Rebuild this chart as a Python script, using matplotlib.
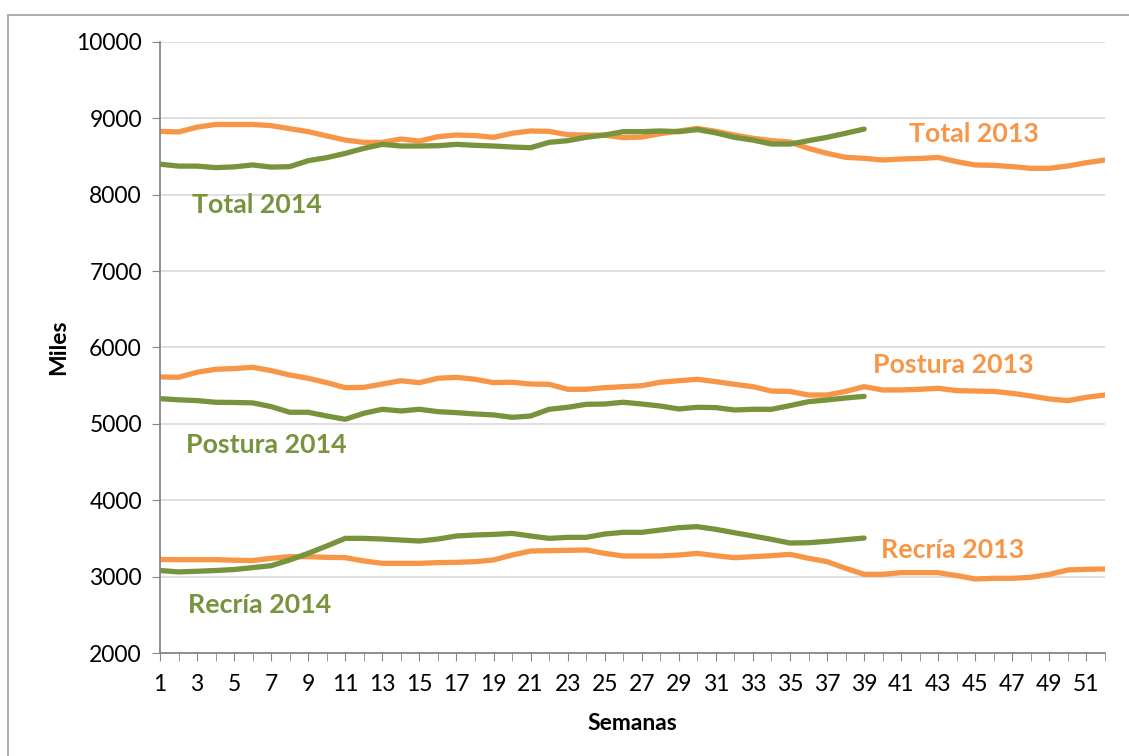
import matplotlib.pyplot as plt
from matplotlib.patches import Rectangle
import numpy as np

plt.rcParams['font.family'] = ['Lato', 'DejaVu Sans']

semanas = list(range(1, 53))

total_2013 = [8830, 8822, 8885, 8920, 8920, 8920, 8905, 8865, 8826, 8770,
              8716, 8686, 8686, 8730, 8703, 8760, 8782, 8775, 8752, 8805,
              8835, 8830, 8786, 8782, 8780, 8748, 8755, 8800, 8835, 8868,
              8830, 8782, 8740, 8708, 8690, 8607, 8542, 8490, 8477, 8455,
              8468, 8475, 8488, 8433, 8390, 8385, 8368, 8346, 8346, 8377,
              8420, 8455]
total_2014 = [8400, 8375, 8375, 8355, 8365, 8390, 8362, 8368, 8446, 8486,
              8542, 8607, 8660, 8638, 8638, 8642, 8660, 8647, 8638, 8625,
              8616, 8686, 8708, 8752, 8782, 8826, 8826, 8835, 8826, 8853,
              8810, 8752, 8716, 8664, 8664, 8708, 8752, 8805, 8860]

postura_2013 = [5615, 5610, 5676, 5715, 5724, 5741, 5697, 5640, 5597, 5540,
                5474, 5478, 5522, 5565, 5540, 5597, 5610, 5584, 5540, 5545,
                5522, 5518, 5453, 5453, 5474, 5487, 5500, 5545, 5565, 5584,
                5553, 5518, 5487, 5430, 5425, 5378, 5378, 5425, 5487, 5444,
                5444, 5453, 5466, 5435, 5430, 5425, 5400, 5365, 5326, 5304,
                5348, 5378]
postura_2014 = [5330, 5315, 5305, 5283, 5280, 5275, 5226, 5152, 5152, 5103,
                5060, 5139, 5191, 5169, 5191, 5160, 5147, 5130, 5117, 5086,
                5103, 5191, 5217, 5256, 5260, 5283, 5260, 5234, 5195, 5217,
                5213, 5182, 5191, 5191, 5239, 5291, 5313, 5339, 5360]

recria_2013 = [3225, 3222, 3222, 3222, 3215, 3210, 3240, 3261, 3261, 3253,
               3248, 3205, 3174, 3174, 3174, 3183, 3187, 3196, 3218, 3283,
               3335, 3340, 3344, 3349, 3305, 3270, 3270, 3270, 3283, 3305,
               3274, 3248, 3261, 3274, 3292, 3240, 3196, 3109, 3030, 3030,
               3052, 3052, 3052, 3013, 2969, 2978, 2978, 2991, 3030, 3087,
               3096, 3100]
recria_2014 = [3080, 3062, 3070, 3080, 3093, 3118, 3143, 3218, 3305, 3401,
               3501, 3501, 3492, 3479, 3466, 3492, 3532, 3545, 3553, 3566,
               3532, 3501, 3514, 3514, 3558, 3580, 3580, 3610, 3641, 3654,
               3619, 3575, 3532, 3488, 3440, 3444, 3462, 3484, 3505]

naranja = '#F79646'
verde = '#77933C'
gris = '#868686'

fig = plt.figure(figsize=(11.29, 7.56), dpi=100)
fig.patches.append(Rectangle((8 / 1129, -0.1), 1.2, 1.1 - 15 / 756,
                             transform=fig.transFigure, fill=False,
                             edgecolor='#A0A0A0', linewidth=1.2))
ax = fig.add_axes([160 / 1129, 1 - 653 / 756, 945 / 1129, 611 / 756])

lw = 3.8
ax.plot(semanas, total_2013, color=naranja, lw=lw, solid_capstyle='round')
ax.plot(semanas, postura_2013, color=naranja, lw=lw, solid_capstyle='round')
ax.plot(semanas, recria_2013, color=naranja, lw=lw, solid_capstyle='round')
ax.plot(semanas[:len(total_2014)], total_2014, color=verde, lw=lw, solid_capstyle='round')
ax.plot(semanas[:len(postura_2014)], postura_2014, color=verde, lw=lw, solid_capstyle='round')
ax.plot(semanas[:len(recria_2014)], recria_2014, color=verde, lw=lw, solid_capstyle='round')

ax.set_xlim(1, 52)
ax.set_ylim(2000, 10000)
ax.set_yticks(range(2000, 10001, 1000))
ax.set_xticks(semanas, minor=True)
ax.set_xticks(semanas[::2])
ax.tick_params(axis='x', which='both', length=6, color=gris, labelsize=16.5, pad=9)
ax.tick_params(axis='y', length=6, color=gris, labelsize=16.5, pad=7)
ax.grid(axis='y', color='#D9D9D9', linewidth=1.2)
ax.set_axisbelow(True)
for s in ['top', 'right']:
    ax.spines[s].set_visible(False)
for s in ['left', 'bottom']:
    ax.spines[s].set_color(gris)
    ax.spines[s].set_linewidth(1.3)

ax.set_xlabel('Semanas', fontsize=16.5, fontweight='bold', labelpad=13)
ax.set_ylabel('Miles', fontsize=16.5, fontweight='bold', labelpad=5)

kw = dict(fontsize=19.3, fontweight='bold')
ax.text(41.4, 8690, 'Total 2013', color=naranja, **kw)
ax.text(2.7, 7765, 'Total 2014', color=verde, **kw)
ax.text(39.5, 5660, 'Postura 2013', color=naranja, **kw)
ax.text(2.4, 4620, 'Postura 2014', color=verde, **kw)
ax.text(39.9, 3240, 'Recría 2013', color=naranja, **kw)
ax.text(2.5, 2520, 'Recría 2014', color=verde, **kw)

fig.savefig('out.png', dpi=100)
